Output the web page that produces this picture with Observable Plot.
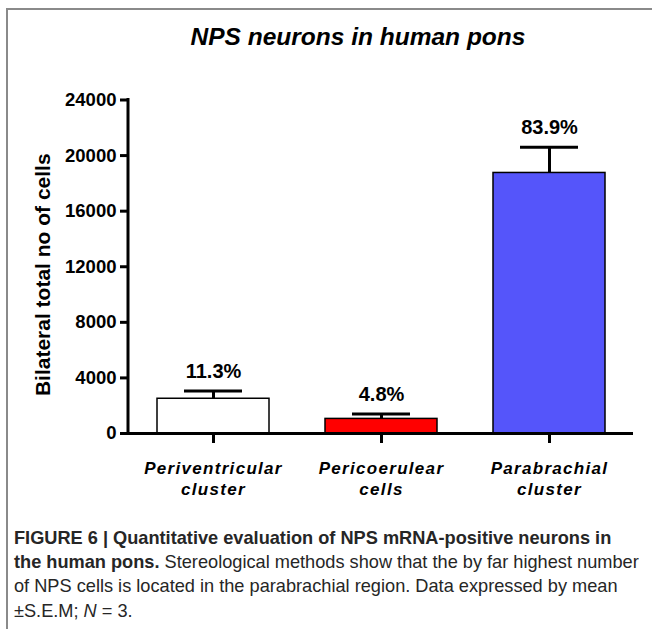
<!DOCTYPE html>
<html><head><meta charset="utf-8">
<script src="https://cdn.jsdelivr.net/npm/d3@7"></script>
<script src="https://cdn.jsdelivr.net/npm/@observablehq/plot@0.6"></script>
<style>
html,body{margin:0;padding:0;background:#fff;}
body{width:652px;height:629px;position:relative;overflow:hidden;font-family:"Liberation Sans",Arial,sans-serif;}
#frame{position:absolute;left:6px;top:8px;right:-10px;bottom:-10px;border-left:2px solid #8a8a8a;border-top:2px solid #8a8a8a;}
#chart{position:absolute;left:0;top:0;}
#title{position:absolute;left:158px;width:400px;top:23px;line-height:28px;text-align:center;font-weight:bold;font-style:italic;font-size:24.5px;color:#000;}
#caption{position:absolute;left:14px;top:526px;font-size:18.2px;line-height:24.2px;color:#262626;white-space:nowrap;}
g[aria-label="x-axis tick label"] text{letter-spacing:1.3px;}
g[aria-label="x-axis tick label"]{font-weight:bold;font-style:italic;}
g[aria-label="y-axis tick label"]{font-weight:bold;}
</style></head><body>
<div id="frame"></div>
<div id="chart"></div>
<div id="title">NPS neurons in human pons</div>
<div id="caption"><b>FIGURE 6 | Quantitative evaluation of NPS mRNA-positive neurons in</b><br><b>the human pons.</b> Stereological methods show that the by far highest number<br>of NPS cells is located in the parabrachial region. Data expressed by mean<br>±S.E.M; <i>N</i> = 3.</div>
<script>
const categories = ["Periventricular cluster", "Pericoerulear cells", "Parabrachial cluster"];
const tickLabels = ["Periventricular\ncluster", "Pericoerulear\ncells", "Parabrachial\ncluster"];
const means = [2500, 1050, 18750];
const sems = [550, 350, 1850];
const percentLabels = ["11.3%", "4.8%", "83.9%"];
const barColors = ["#ffffff", "#ff0000", "#5555fa"];
const yTicks = [0, 4000, 8000, 12000, 16000, 20000, 24000];
const yTitle = "Bilateral total no of cells";

const data = categories.map((c, i) => ({
  category: c, mean: means[i], top: means[i] + sems[i], pct: percentLabels[i], color: barColors[i]
}));

// y-axis spine drawn from the plot's own frame dimensions
function ySpine(index, scales, values, dimensions) {
  const {marginLeft, marginTop, marginBottom, height} = dimensions;
  const line = document.createElementNS("http://www.w3.org/2000/svg", "line");
  line.setAttribute("x1", marginLeft);
  line.setAttribute("x2", marginLeft);
  line.setAttribute("y1", marginTop - 1.5);
  line.setAttribute("y2", height - marginBottom + 1.5);
  line.setAttribute("stroke", "#000");
  line.setAttribute("stroke-width", 3);
  return line;
}

const chart = Plot.plot({
  width: 652, height: 500,
  marginLeft: 128, marginRight: 19, marginTop: 99.5, marginBottom: 67,
  style: {fontFamily: '"Liberation Sans", Arial, sans-serif', background: "transparent", color: "#000"},
  x: {domain: categories, paddingInner: 1/3, paddingOuter: 1/6, label: null},
  y: {domain: [0, 24000], label: null},
  color: {type: "identity"},
  marks: [
    Plot.barY(data, {x: "category", y: "mean", fill: "color", stroke: "#000", strokeWidth: 1.5}),
    Plot.ruleX(data, {x: "category", y1: "mean", y2: "top", stroke: "#000", strokeWidth: 3}),
    Plot.tickY(data, {x: "category", y: "top", stroke: "#000", strokeWidth: 3, insetLeft: 27, insetRight: 27}),
    Plot.text(data, {x: "category", y: "top", text: "pct", dy: -13, lineAnchor: "bottom", fontSize: 20, fontWeight: "bold", fill: "#000"}),
    Plot.ruleY([0], {stroke: "#000", strokeWidth: 3}),
    ySpine,
    Plot.axisY({ticks: yTicks, tickFormat: d3.format("d"), tickSize: 8, tickPadding: 4, strokeWidth: 3, fontSize: 18.5, fontWeight: "bold", label: null}),
    Plot.axisX({tickSize: 10, tickPadding: 15.5, strokeWidth: 3, fontSize: 17, fontWeight: "bold", fontStyle: "italic", lineHeight: 1.24, label: null,
      tickFormat: d => tickLabels[categories.indexOf(d)]}),
    Plot.text([yTitle], {frameAnchor: "left", textAnchor: "middle", rotate: -90, dx: -85, dy: 8, fontSize: 21, fontWeight: "bold", fill: "#000"})
  ]
});
document.getElementById("chart").appendChild(chart);
</script>
</body></html>
